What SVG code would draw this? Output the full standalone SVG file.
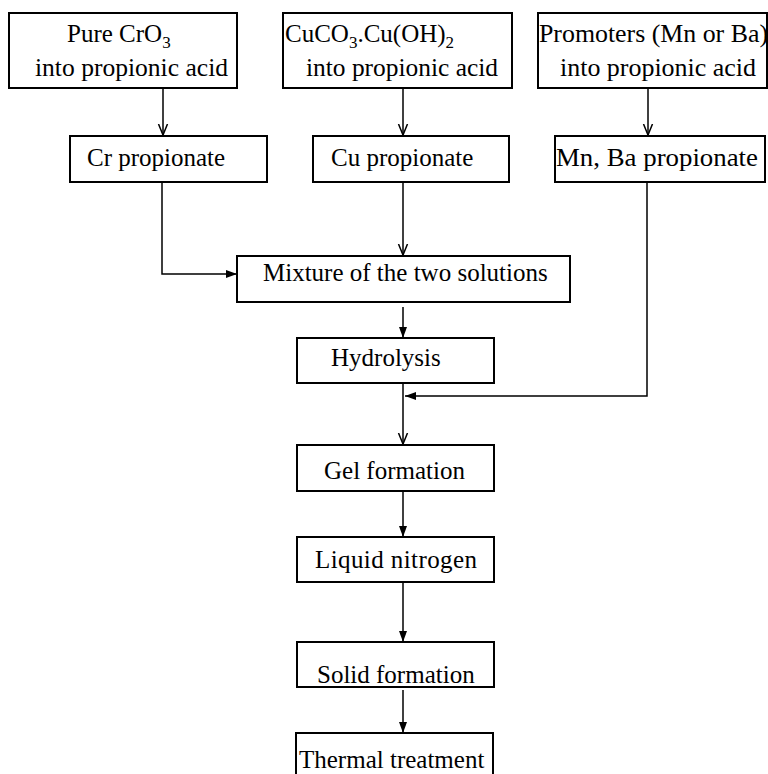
<svg xmlns="http://www.w3.org/2000/svg" width="768" height="774" viewBox="0 0 768 774">
<defs>
<style>
.box{fill:#fff;stroke:#000;stroke-width:2}
.t{font-family:"Liberation Serif","Times New Roman",serif;font-size:25px;fill:#000}
.sub{font-size:17px}
.c{fill:none;stroke:#000;stroke-width:1.5}
</style>
<marker id="open" viewBox="0 0 12 12" refX="11" refY="6" markerWidth="12" markerHeight="12" markerUnits="userSpaceOnUse" orient="auto">
<path d="M0,1.5 L11,6 L0,10.5" fill="none" stroke="#000" stroke-width="1.5"/>
</marker>
<marker id="fill" viewBox="0 0 12 12" refX="11" refY="6" markerWidth="12" markerHeight="12" markerUnits="userSpaceOnUse" orient="auto">
<path d="M0,2 L11,6 L0,10 Z" fill="#000"/>
</marker>
</defs>
<rect width="768" height="774" fill="#fff"/>
<g id="connectors">
<line class="c" x1="163" y1="88" x2="163" y2="135" marker-end="url(#open)"/>
<line class="c" x1="403" y1="88" x2="403" y2="135" marker-end="url(#open)"/>
<line class="c" x1="648" y1="88" x2="648" y2="135" marker-end="url(#open)"/>
<polyline class="c" points="162,182 162,274 237,274" marker-end="url(#fill)"/>
<line class="c" x1="403" y1="182" x2="403" y2="255" marker-end="url(#open)"/>
<line class="c" x1="403" y1="307" x2="403" y2="338" marker-end="url(#fill)"/>
<polyline class="c" points="647,182 647,396 405,396" marker-end="url(#fill)"/>
<line class="c" x1="403" y1="383" x2="403" y2="444" marker-end="url(#open)"/>
<line class="c" x1="403" y1="491" x2="403" y2="537" marker-end="url(#fill)"/>
<line class="c" x1="403" y1="583" x2="403" y2="642" marker-end="url(#fill)"/>
<line class="c" x1="403" y1="690" x2="403" y2="733" marker-end="url(#fill)"/>
</g>
<g id="n1"><rect class="box" x="9" y="13" width="228" height="75"/>
<text class="t" x="67" y="42">Pure CrO<tspan class="sub" dy="6">3</tspan></text>
<text class="t" x="35" y="76" textLength="193" lengthAdjust="spacingAndGlyphs">into propionic acid</text></g>
<g id="n2"><rect class="box" x="283" y="13" width="229" height="75"/>
<text class="t" x="285" y="42">CuCO<tspan class="sub" dy="6">3</tspan><tspan dy="-6">.Cu(OH)</tspan><tspan class="sub" dy="6">2</tspan></text>
<text class="t" x="306" y="76" textLength="192" lengthAdjust="spacingAndGlyphs">into propionic acid</text></g>
<g id="n3"><rect class="box" x="538" y="13" width="229" height="75"/>
<text class="t" x="539" y="42" textLength="229" lengthAdjust="spacingAndGlyphs">Promoters (Mn or Ba)</text>
<text class="t" x="560" y="76" textLength="196" lengthAdjust="spacingAndGlyphs">into propionic acid</text></g>
<g id="n4"><rect class="box" x="70" y="136" width="197" height="46"/>
<text class="t" x="87" y="166">Cr propionate</text></g>
<g id="n5"><rect class="box" x="313" y="136" width="196" height="46"/>
<text class="t" x="331" y="166">Cu propionate</text></g>
<g id="n6"><rect class="box" x="555" y="136" width="210" height="46"/>
<text class="t" x="556" y="166" textLength="202" lengthAdjust="spacingAndGlyphs">Mn, Ba propionate</text></g>
<g id="n7"><rect class="box" x="237" y="256" width="333" height="46"/>
<text class="t" x="263" y="281">Mixture of the two solutions</text></g>
<g id="n8"><rect class="box" x="297" y="338" width="197" height="45"/>
<text class="t" x="331" y="366">Hydrolysis</text></g>
<g id="n9"><rect class="box" x="297" y="445" width="197" height="46"/>
<text class="t" x="324" y="479">Gel formation</text></g>
<g id="n10"><rect class="box" x="297" y="537" width="197" height="45"/>
<text class="t" x="315" y="568" textLength="162" lengthAdjust="spacing">Liquid nitrogen</text></g>
<g id="n11"><rect class="box" x="297" y="642" width="197" height="45"/>
<text class="t" x="317" y="683">Solid formation</text></g>
<g id="n12"><rect class="box" x="296" y="733" width="197" height="50"/>
<text class="t" x="299" y="768">Thermal treatment</text></g>
</svg>
